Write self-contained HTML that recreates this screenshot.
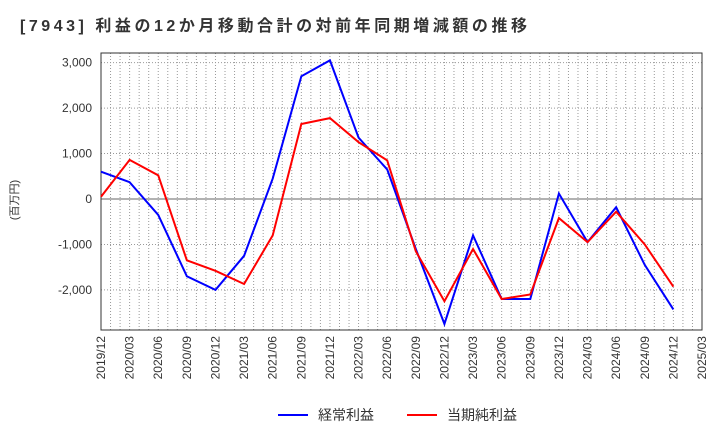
<!DOCTYPE html>
<html><head><meta charset="utf-8"><style>
body{margin:0;background:#fff;font-family:"Liberation Sans","Noto Sans CJK JP",sans-serif}
</style></head><body>
<svg id="c" width="720" height="440" xmlns="http://www.w3.org/2000/svg"></svg>
<script>
const categories=["2019/12","2020/03","2020/06","2020/09","2020/12","2021/03","2021/06","2021/09","2021/12","2022/03","2022/06","2022/09","2022/12","2023/03","2023/06","2023/09","2023/12","2024/03","2024/06","2024/09","2024/12","2025/03"];
const ordinaryProfit=[600,370,-350,-1700,-2000,-1250,450,2700,3050,1350,650,-1100,-2750,-800,-2200,-2200,120,-950,-180,-1450,-2430];
const netProfit=[50,860,520,-1350,-1580,-1870,-800,1650,1780,1250,850,-1150,-2250,-1100,-2200,-2100,-420,-950,-280,-1000,-1930];
const yTicks=[3000,2000,1000,0,-1000,-2000];
const yTickLabels=["3,000","2,000","1,000","0","-1,000","-2,000"];
const NS="http://www.w3.org/2000/svg",svg=document.getElementById('c');
const L=101,R=702,T=53,B=330;
const x=i=>L+(R-L)*i/21;
const y=v=>199-v*0.04545;
function mk(t,a,p){const e=document.createElementNS(NS,t);for(const k in a)e.setAttribute(k,a[k]);(p||svg).appendChild(e);return e;}
const title=mk('text',{x:20,y:31,'font-size':16,'font-weight':'bold',fill:'#333',textLength:507,lengthAdjust:'spacing','xml:space':'preserve'});title.textContent='[7943]  利益の12か月移動合計の対前年同期増減額の推移';

const g=mk('g',{});
for(let m=1;m<63;m++){const xx=L+(R-L)*m/63;mk('line',{x1:xx,x2:xx,y1:T,y2:B,stroke:'#999','stroke-width':1,'stroke-dasharray':'1,2'},g);}
yTicks.forEach((v,i)=>{mk('line',{x1:L,x2:R,y1:y(v),y2:y(v),stroke:v===0?'#666':'#999','stroke-width':1,'stroke-dasharray':v===0?'':'1,2'},g);
const t=mk('text',{x:92,y:y(v)+4,'text-anchor':'end','font-size':12,fill:'#333'});t.textContent=yTickLabels[i];
});
const fr=mk('rect',{x:L,y:T,width:R-L,height:B-T,fill:'none',stroke:'#333'});
categories.forEach((c,i)=>{const t=mk('text',{transform:`translate(${x(i)+4},${B+6}) rotate(-90)`,'text-anchor':'end','font-size':12,fill:'#333'});t.textContent=c;
});
const yt=mk('text',{transform:'translate(18,200) rotate(-90)','text-anchor':'middle','font-size':11,fill:'#333'});yt.textContent='(百万円)';

function line(d,col,name){const p=mk('polyline',{points:d.map((v,i)=>x(i)+','+y(v)).join(' '),fill:'none',stroke:col,'stroke-width':2});
}
line(ordinaryProfit,'#0000ff','ordinary-profit-line');line(netProfit,'#ff0000','net-profit-line');
function leg(x0,col,txt,name){const gg=mk('g',{});
mk('line',{x1:x0,x2:x0+30,y1:415,y2:415,stroke:col,'stroke-width':2},gg);const t=mk('text',{x:x0+40,y:420,'font-size':14,fill:'#333'},gg);t.textContent=txt;}
leg(278,'#0000ff','経常利益','legend-ordinary-profit');leg(407,'#ff0000','当期純利益','legend-net-profit');
</script></body></html>
